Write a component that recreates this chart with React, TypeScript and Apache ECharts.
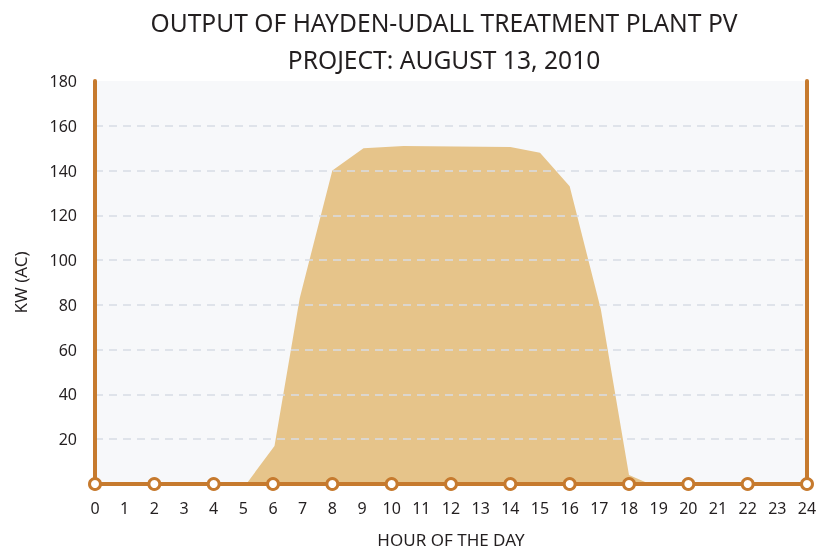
import React, { useEffect, useRef } from "react";
import * as echarts from "echarts";

const titleLines = ["OUTPUT OF HAYDEN-UDALL TREATMENT PLANT PV", "PROJECT: AUGUST 13, 2010"];
const xAxisName = "HOUR OF THE DAY";
const yAxisName = "KW (AC)";

// Hour of day (decimal) and output in kW (AC)
const hours = [0, 5.1, 6.05, 6.9, 8, 9.05, 10.4, 14, 15, 16, 17.05, 18, 18.7, 24];
const outputKw = [0, 0, 17, 83, 140, 150, 151, 150.5, 148, 133, 78, 4, 0, 0];

// Marker positions on the baseline (every two hours)
const markerHours = [0, 2, 4, 6, 8, 10, 12, 14, 16, 18, 20, 22, 24];

const ORANGE = "#C67A2E";
const AREA = "#E6C48A";
const FONT = "'Noto Sans', 'Open Sans', sans-serif";

export default function App() {
  const ref = useRef<HTMLDivElement>(null);
  useEffect(() => {
    document.body.style.margin = "0";
    const chart = echarts.init(ref.current!, null, { renderer: "svg" });
    chart.setOption({
      animation: false,
      textStyle: { fontFamily: FONT },
      title: {
        text: titleLines.join("\n"),
        left: 444,
        textAlign: "center",
        top: 4,
        padding: 0,
        textStyle: {
          fontFamily: FONT,
          fontSize: 24.6,
          fontWeight: "normal",
          color: "#231f20",
          lineHeight: 37,
        },
      },
      grid: {
        left: 95,
        right: 12,
        top: 81,
        bottom: 66,
        show: true,
        containLabel: false,
        outerBoundsMode: "none",
        backgroundColor: "#F7F8FA",
        borderWidth: 0,
      },
      xAxis: {
        type: "value",
        min: 0,
        max: 24,
        interval: 1,
        name: xAxisName,
        nameLocation: "middle",
        nameGap: 47,
        nameTextStyle: { fontSize: 17, color: "#231f20", fontFamily: FONT },
        axisLine: { show: false },
        axisTick: { show: false },
        splitLine: { show: false },
        axisLabel: { fontSize: 16, color: "#231f20", margin: 16, fontFamily: FONT },
      },
      yAxis: [
        {
          type: "value",
          min: 0,
          max: 180,
          interval: 20,
          z: 5,
          name: yAxisName,
          nameLocation: "middle",
          nameGap: 66,
          nameTextStyle: { fontSize: 17, color: "#231f20", fontFamily: FONT },
          axisLine: { show: true, lineStyle: { color: ORANGE, width: 4 } },
          axisTick: { show: false },
          axisLabel: {
            fontSize: 16,
            color: "#231f20",
            margin: 18,
            fontFamily: FONT,
            formatter: (v: number) => (v === 0 ? "" : String(v)),
          },
          splitLine: {
            show: true,
            showMinLine: false,
            showMaxLine: false,
            lineStyle: { color: "rgba(215,220,228,0.75)", width: 2, type: [8, 6] },
          },
        },
        {
          type: "value",
          min: 0,
          max: 180,
          interval: 20,
          position: "right",
          z: 5,
          axisLine: { show: true, lineStyle: { color: ORANGE, width: 4 } },
          axisTick: { show: false },
          axisLabel: { show: false },
          splitLine: { show: false },
        },
      ],
      series: [
        {
          type: "line",
          data: hours.map((h, i) => [h, outputKw[i]]),
          symbol: "none",
          lineStyle: { width: 0 },
          areaStyle: { color: AREA, opacity: 1 },
          z: 2,
        },
        {
          type: "line",
          data: markerHours.map((h) => [h, 0]),
          clip: false,
          symbol: "circle",
          symbolSize: 11,
          showAllSymbol: true,
          lineStyle: { color: ORANGE, width: 4 },
          itemStyle: { color: "#ffffff", borderColor: ORANGE, borderWidth: 3 },
          z: 10,
        },
      ],
    });
    return () => chart.dispose();
  }, []);
  return (
    <div
      ref={ref}
      style={{ position: "fixed", left: 0, top: 0, width: 819, height: 550 }}
    />
  );
}
